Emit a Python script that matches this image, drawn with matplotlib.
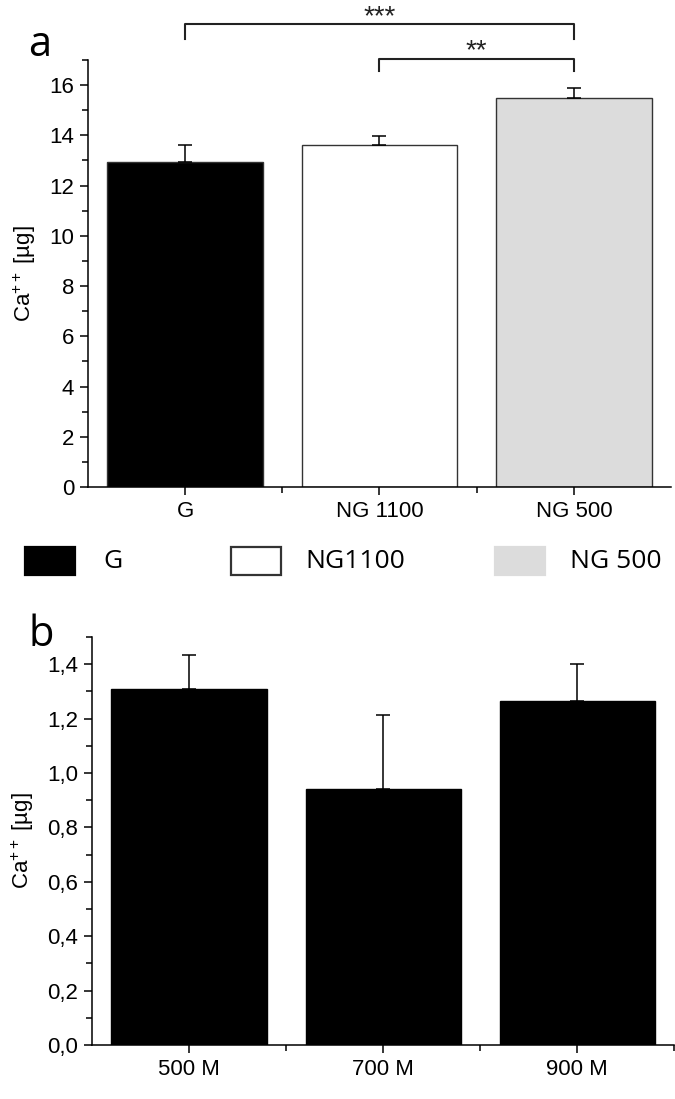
import matplotlib
matplotlib.use("Agg")
import matplotlib.pyplot as plt
from matplotlib.patches import Rectangle
from matplotlib.ticker import MultipleLocator, FixedLocator, FuncFormatter

# ---- data ----
cats_a = ["G", "NG 1100", "NG 500"]
vals_a = [12.95, 13.6, 15.5]
err_a = [0.65, 0.38, 0.37]
colors_a = ["#000000", "#ffffff", "#dcdcdc"]
legend_labels = ["G", "NG1100", "NG 500"]
sig_pairs = [(0, 2, "***"), (1, 2, "**")]

cats_b = ["500 M", "700 M", "900 M"]
vals_b = [1.31, 0.94, 1.265]
err_b = [0.125, 0.275, 0.135]

TICKFONT = "Liberation Sans"
LEGFONT = "Open Sans"
plt.rcParams["mathtext.fontset"] = "custom"
plt.rcParams["mathtext.rm"] = TICKFONT
plt.rcParams["mathtext.it"] = TICKFONT
plt.rcParams["mathtext.default"] = "regular"

W, H = 675, 1099
fig = plt.figure(figsize=(6.75, 10.99), dpi=100)

def style_axes(ax):
    for s in ["top", "right"]:
        ax.spines[s].set_visible(False)
    for s in ["left", "bottom"]:
        ax.spines[s].set_linewidth(1.1)
    ax.tick_params(which="major", direction="out", length=6, width=1.1,
                   labelsize=16, pad=4)
    ax.tick_params(which="minor", direction="out", length=4, width=1.1)
    for lab in ax.get_xticklabels() + ax.get_yticklabels():
        lab.set_fontfamily(TICKFONT)

# ---- panel a ----
ax1 = fig.add_axes([88/W, 1-487/H, (671-88)/W, (487-60)/H])
x = list(range(len(cats_a)))
ax1.bar(x, vals_a, width=0.8, color=colors_a, edgecolor="#333333",
        linewidth=1.0, zorder=2)
ax1.errorbar(x, vals_a, yerr=[[0]*3, err_a], fmt="none", ecolor="black",
             elinewidth=1.1, capsize=5, capthick=1.1, zorder=3)
ax1.set_xlim(-0.5, 2.5)
ax1.set_ylim(0, 17)
ax1.yaxis.set_major_locator(MultipleLocator(2))
ax1.yaxis.set_minor_locator(MultipleLocator(1))
ax1.set_xticks(x)
ax1.set_xticklabels(cats_a)
ax1.xaxis.set_minor_locator(FixedLocator([0.5, 1.5]))
ax1.set_ylabel("Ca$^{++}$ [µg]", fontsize=16, fontfamily=TICKFONT, labelpad=8)
style_axes(ax1)

# significance brackets
br_levels = [(18.45, 17.85), (17.05, 16.55)]
star_y = [18.72, 17.35]
for (i, j, txt), (top, bot), sy in zip(sig_pairs, br_levels, star_y):
    ax1.plot([i, i, j, j], [bot, top, top, bot], color="#222222", lw=1.5,
             clip_on=False)
    ax1.text((i + j) / 2, sy, txt, ha="center", va="center",
             fontsize=20, fontfamily=TICKFONT, color="#222222")

fig.text(28/W, 1-45/H, "a", fontsize=30, fontfamily=LEGFONT,
         ha="left", va="center")

# ---- legend (drawn manually) ----
box_x = [25, 231, 495]
txt_x = [103, 305, 570]
for bx, tx, c, lab in zip(box_x, txt_x, colors_a, legend_labels):
    ec = "#333333" if c == "#ffffff" else c
    fig.add_artist(Rectangle((bx/W, 1-575/H), 50/W, 28/H, transform=fig.transFigure,
                             facecolor=c, edgecolor=ec, linewidth=1.6))
    fig.text(tx/W, 1-561/H, lab, fontsize=19, fontfamily=LEGFONT,
             ha="left", va="center")

# ---- panel b ----
ax2 = fig.add_axes([92/W, 1-1045/H, (675-92)/W - 0.001, (1045-637)/H])
xb = list(range(len(cats_b)))
ax2.bar(xb, vals_b, width=0.8, color="black", edgecolor="black", zorder=2)
ax2.errorbar(xb, vals_b, yerr=[[0]*3, err_b], fmt="none", ecolor="black",
             elinewidth=1.1, capsize=5, capthick=1.1, zorder=1)
ax2.set_xlim(-0.5, 2.5)
ax2.set_ylim(0, 1.5)
ax2.yaxis.set_major_locator(MultipleLocator(0.2))
ax2.yaxis.set_minor_locator(MultipleLocator(0.1))
ax2.yaxis.set_major_formatter(FuncFormatter(lambda v, p: f"{v:.1f}".replace(".", ",")))
ax2.set_xticks(xb)
ax2.set_xticklabels(cats_b)
ax2.xaxis.set_minor_locator(FixedLocator([0.5, 1.5, 2.5]))
ax2.set_ylabel("Ca$^{++}$ [µg]", fontsize=16, fontfamily=TICKFONT, labelpad=8)
style_axes(ax2)

fig.text(28/W, 1-635/H, "b", fontsize=30, fontfamily=LEGFONT,
         ha="left", va="center")

fig.savefig("out.png", dpi=100)
